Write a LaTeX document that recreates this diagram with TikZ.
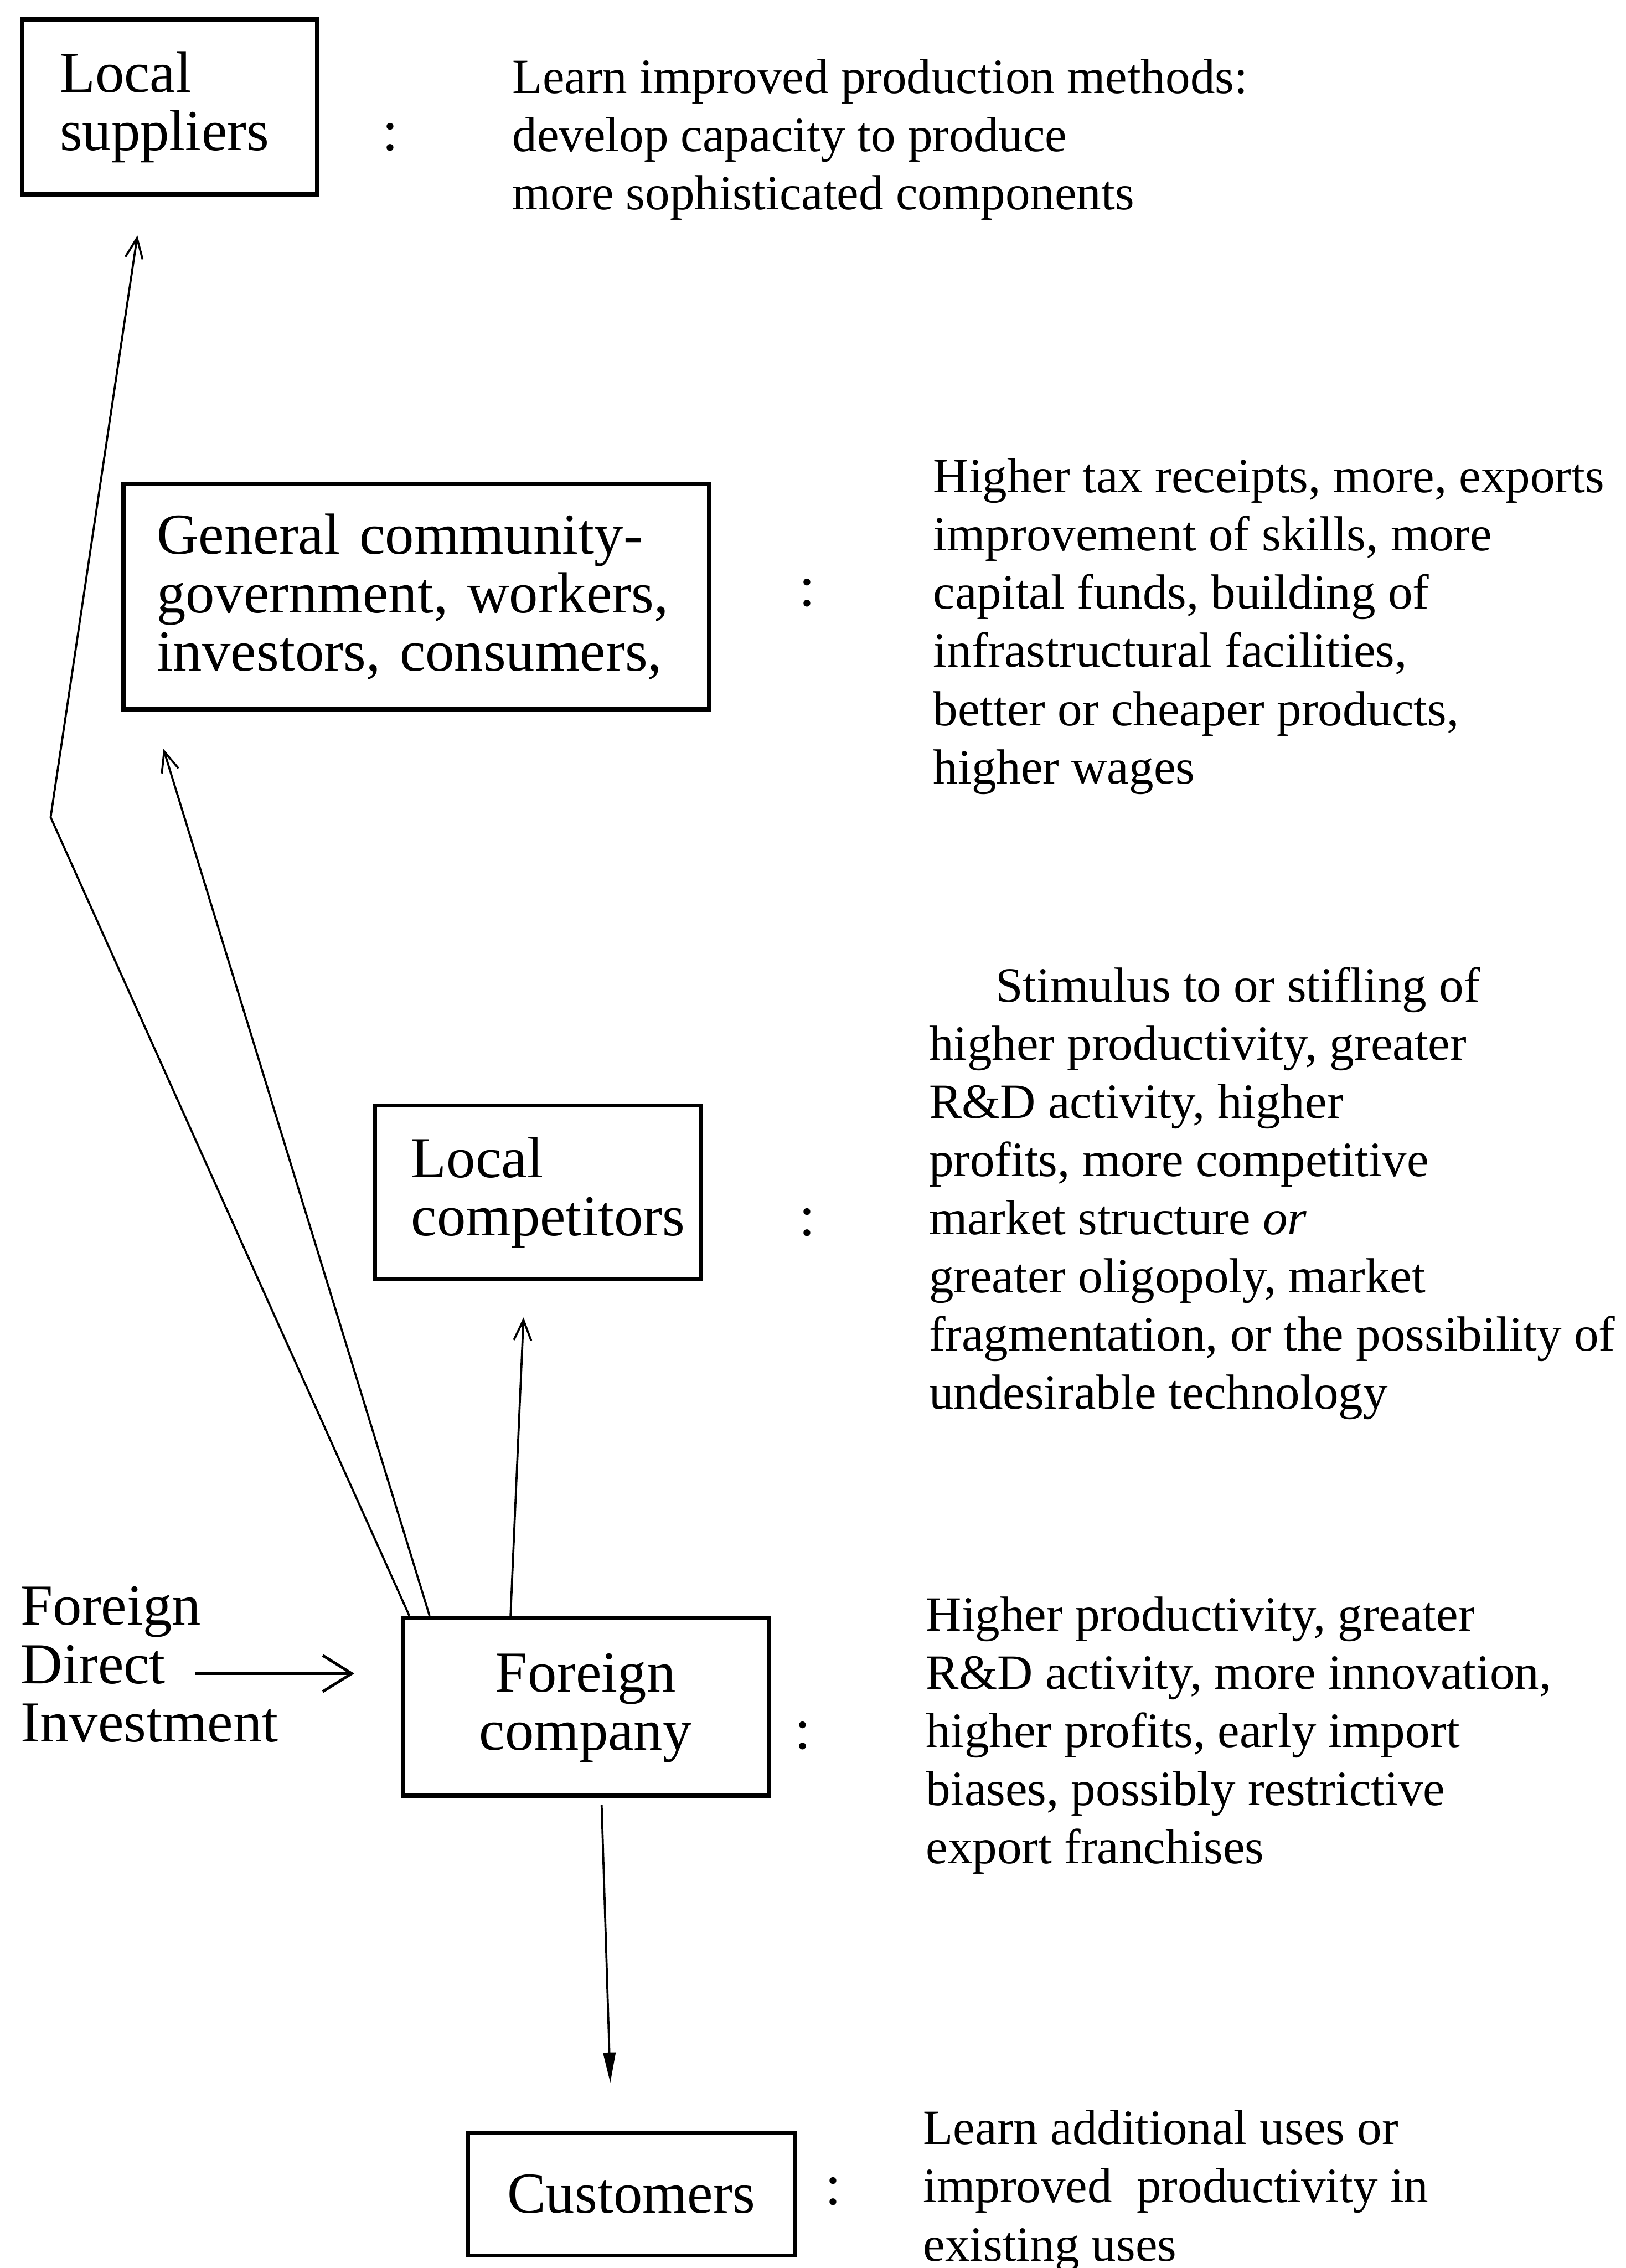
\documentclass[tikz,border=0pt]{standalone}
\usepackage{fontspec}
\setmainfont{Liberation Serif}
\usetikzlibrary{arrows.meta}
\newcommand{\boxfont}{\fontsize{22.8}{22.9}\selectfont}
\newcommand{\descfont}{\fontsize{19.4}{22.9}\selectfont}

\begin{document}
\begin{tikzpicture}[
    boxnode/.style={draw,line width=1.6pt,anchor=north west,align=left,font=\boxfont},
    txt/.style={anchor=north west,inner sep=0pt,align=left,font=\descfont},
    colon/.style={font=\boxfont},
    link/.style={line width=0.8pt,-{Straight Barb[length=0.28cm,width=0.24cm]}}
]
\useasboundingbox (0,0) rectangle (22.48,-31.36);

% the five groups
\node[boxnode,minimum width=4.08cm,minimum height=2.42cm,text width=3.04cm,inner xsep=0.52cm] (ls) at (0.28,-0.24) {\strut Local\\suppliers};
\node[boxnode,minimum width=8.1cm,minimum height=3.12cm,text width=7.18cm,inner xsep=0.46cm] (gc) at (1.68,-6.66) {\strut General community-\\government, workers,\\investors, consumers,};
\node[boxnode,minimum width=4.5cm,minimum height=2.4cm,text width=3.5cm,inner xsep=0.5cm] (lc) at (5.16,-15.26) {\strut Local\\competitors};
\node[boxnode,minimum width=5.06cm,minimum height=2.46cm,align=center] (fc) at (5.54,-22.34) {\strut Foreign\\company};
\node[boxnode,minimum width=4.52cm,minimum height=1.7cm,align=center] (cu) at (6.44,-29.46) {Customers};

% colons
\node[colon] (lscolon) at (5.4,-1.9) {:};
\node[colon] (gccolon) at (11.16,-8.2) {:};
\node[colon] (lccolon) at (11.16,-16.9) {:};
\node[colon] (fccolon) at (11.1,-24.0) {:};
\node[colon] (cucolon) at (11.52,-30.3) {:};

% effects
\node[txt] (lstext) at (7.08,-0.72) {\strut Learn improved production methods:\\develop capacity to produce\\more sophisticated components};
\node[txt] (gctext) at (12.9,-6.24) {\strut Higher tax receipts, more, exports\\improvement of skills, more\\capital funds, building of\\infrastructural facilities,\\better or cheaper products,\\higher wages};
\node[txt] (lctext) at (12.84,-13.28) {\strut\hspace*{0.92cm}Stimulus to or stifling of\\higher productivity, greater\\R\&D activity, higher\\profits, more competitive\\market structure \emph{or}\\greater oligopoly, market\\fragmentation, or the possibility of\\undesirable technology};
\node[txt] (fctext) at (12.8,-21.98) {\strut Higher productivity, greater\\R\&D activity, more innovation,\\higher profits, early import\\biases, possibly restrictive\\export franchises};
\node[txt] (cutext) at (12.76,-29.08) {\strut Learn additional uses or\\improved\ \ productivity in\\existing uses};

\node[txt,font=\boxfont] (fdi) at (0.28,-21.9) {\strut Foreign\\Direct\\Investment};

% arrows
\coordinate (bend) at (0.7,-11.3);
\coordinate (fdistart) at (2.7,-23.14);
\draw[link] ([xshift=0.12cm]fc.north west) -- (bend) -- ([xshift=1.62cm,yshift=-0.54cm]ls.south west);
\draw[link] ([xshift=0.4cm]fc.north west) -- ([xshift=0.58cm,yshift=-0.52cm]gc.south west);
\draw[link] ([xshift=1.52cm]fc.north west) -- ([xshift=2.08cm,yshift=-0.5cm]lc.south west);
\draw[line width=0.8pt,-{Triangle[length=0.42cm,width=0.17cm]}] ([xshift=2.78cm,yshift=-0.1cm]fc.south west) -- ([xshift=2.0cm,yshift=0.66cm]cu.north west);
\draw[line width=1.1pt,-{Straight Barb[length=0.4cm,width=0.5cm]}] (fdistart) -- ([xshift=-0.64cm]fdistart -| fc.west);
\end{tikzpicture}
\end{document}
